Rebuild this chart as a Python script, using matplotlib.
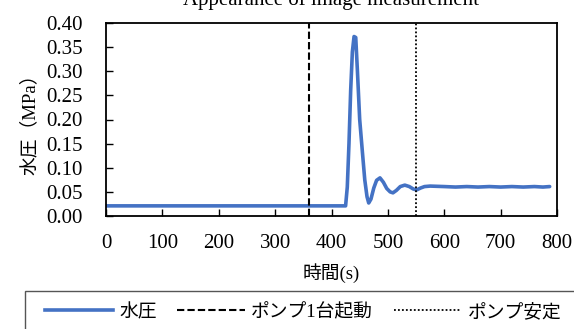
import matplotlib.pyplot as plt
from matplotlib.lines import Line2D
from matplotlib.patches import Rectangle

plt.rcParams['font.family'] = ['Liberation Serif', 'Noto Sans CJK JP', 'DejaVu Sans']

# Water pressure readings (time in s, pressure in MPa)
time_s = [0, 100, 200, 300, 400, 425, 428, 431, 434, 437, 440, 443, 446, 450, 455,
          459, 463, 466, 470, 475, 480, 486, 492, 498, 504, 509, 515, 522, 530,
          538, 545, 551, 558, 565, 575, 600, 620, 640, 660, 680, 700, 720, 740,
          760, 775, 787]
pressure = [0.021, 0.021, 0.021, 0.021, 0.021, 0.021, 0.06, 0.15, 0.26, 0.34, 0.372,
            0.37, 0.30, 0.20, 0.13, 0.075, 0.04, 0.027, 0.035, 0.058, 0.074, 0.079,
            0.070, 0.057, 0.050, 0.048, 0.053, 0.061, 0.064, 0.061, 0.056, 0.054,
            0.058, 0.061, 0.062, 0.061, 0.060, 0.061, 0.060, 0.061, 0.060, 0.061,
            0.060, 0.061, 0.060, 0.061]

pump_start = 360
pump_stable = 550

fig = plt.figure(figsize=(5.74, 3.29), dpi=100)
ax = fig.add_axes([106 / 574, 1 - 216 / 329, 451 / 574, 193 / 329])

ax.plot(time_s, pressure, color='#4472C4', linewidth=2.6, solid_capstyle='round',
        solid_joinstyle='round', label='水圧')
ax.axvline(pump_start, color='black', linestyle=(0, (3.5, 1.5)), linewidth=1.5,
           label='ポンプ1台起動')
ax.axvline(pump_stable, color='black', linestyle=(0, (1, 1.2)), linewidth=1.3,
           label='ポンプ安定')

ax.set_xlim(0, 800)
ax.set_ylim(0, 0.40)
ax.set_xticks(range(0, 801, 100))
ax.set_yticks([i * 0.05 for i in range(9)])
ax.set_yticklabels([f'{i * 0.05:.2f}' for i in range(9)])
ax.tick_params(direction='in', labelsize=15, length=5, width=1)
ax.tick_params(axis='x', pad=13)
ax.tick_params(axis='y', pad=17)
for sp in ax.spines.values():
    sp.set_linewidth(1.3)

ax.set_xlabel('時間(s)', fontsize=13.5, labelpad=7)
ax.set_ylabel('水圧（MPa）', fontsize=13.5, labelpad=5)

fig.text(331 / 574, 1 - 5 / 329, 'Appearance of image measurement', ha='center',
         va='baseline', fontsize=15)

# legend box, running off the bottom-right of the figure
fig.patches.append(Rectangle((25 / 574, -0.1), 0.96, 1 - 291 / 329 + 0.1,
                             transform=fig.transFigure, fill=False,
                             edgecolor='#555555', linewidth=1.0))

handles = [
    Line2D([], [], color='#4472C4', linewidth=2.6),
    Line2D([], [], color='black', linestyle=(0, (3.5, 1.5)), linewidth=1.5),
    Line2D([], [], color='black', linestyle=(0, (1, 1.2)), linewidth=1.3),
]
leg = fig.legend(handles, ['水圧', 'ポンプ1台起動', 'ポンプ安定'], loc='center left',
                 bbox_to_anchor=(45 / 574, 1 - 312 / 329), ncol=3,
                 fontsize=13.5, frameon=False, handlelength=3.6,
                 handletextpad=0.35, columnspacing=1.1, borderpad=0,
                 borderaxespad=0)

fig.savefig('out.png', dpi=100)
